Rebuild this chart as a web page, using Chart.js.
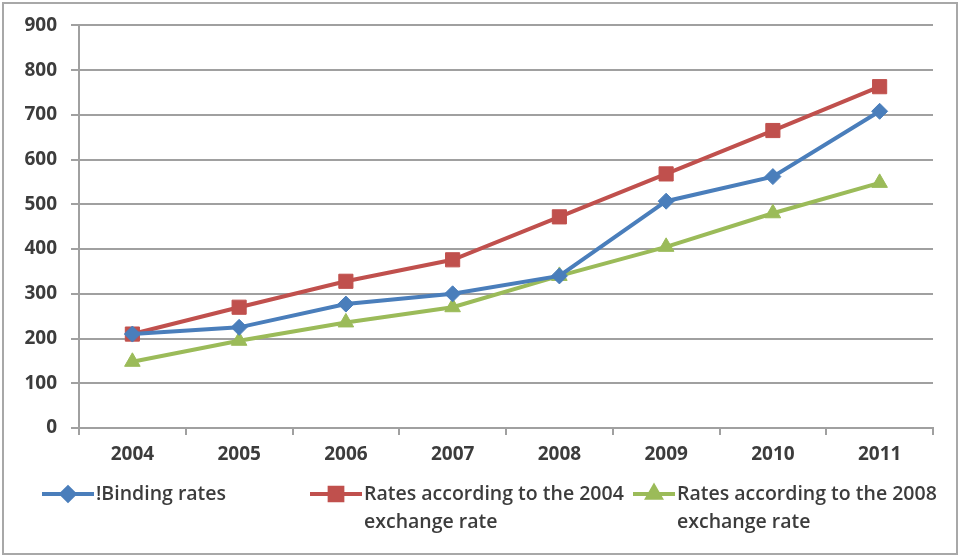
<!DOCTYPE html>
<html lang="en">
<head>
  <meta charset="UTF-8">
  <title>Binding rates 2004-2011</title>
  <script src="https://cdn.jsdelivr.net/npm/chart.js"></script>
  <style>
    body { margin: 0; background: #fff; }
    #wrap { position: relative; width: 962px; height: 557px; }
    #frame { position: absolute; left: 2px; top: 2px; width: 952px; height: 549px; border: 2px solid #a8a8a8; pointer-events: none; }
  </style>
</head>
<body>
  <div id="wrap">
    <canvas id="ratesChart" width="962" height="557"></canvas>
    <div id="frame"></div>
  </div>

  <script>
    const years = ['2004', '2005', '2006', '2007', '2008', '2009', '2010', '2011'];
    const bindingRates = [210, 225, 277, 300, 340, 507, 562, 708];
    const rates2004 = [210, 270, 328, 376, 472, 568, 665, 763];
    const rates2008 = [148, 195, 236, 270, 340, 405, 480, 548];
    const yTicks = [0, 100, 200, 300, 400, 500, 600, 700, 800, 900];

    const BLUE = '#4a7ebb';
    const RED = '#c0504d';
    const GREEN = '#9bbb59';
    const TEXT = '#3c3c3c';
    const GRID = '#a0a0a0';
    const FONT = 'Open Sans';

    // legend entries, drawn by the plugin below (two-line labels)
    const legendItems = [
      { lines: ['!Binding rates'], color: BLUE, style: 'rectRot', r: 6.5, x: 42, w: 52 },
      { lines: ['Rates according to the 2004', 'exchange rate'], color: RED, style: 'rect', r: 9, x: 310, w: 52 },
      { lines: ['Rates according to the 2008', 'exchange rate'], color: GREEN, style: 'triangle', r: 7.5, x: 633, w: 42 }
    ];

    const legendPlugin = {
      id: 'bottomLegend',
      afterDraw(chart) {
        const ctx = chart.ctx;
        ctx.save();
        ctx.font = `600 19.5px "${FONT}"`;
        ctx.textBaseline = 'middle';
        legendItems.forEach(item => {
          const y = 494;
          ctx.strokeStyle = item.color;
          ctx.lineWidth = 4;
          ctx.beginPath();
          ctx.moveTo(item.x, y);
          ctx.lineTo(item.x + item.w, y);
          ctx.stroke();
          Chart.helpers.drawPoint(ctx, {
            pointStyle: item.style, radius: item.r, rotation: 0, borderWidth: 1
          }, item.x + item.w / 2, y);
          ctx.fillStyle = item.color;
          ctx.fill();
          ctx.fillStyle = TEXT;
          item.lines.forEach((t, i) => ctx.fillText(t, item.x + item.w + 2, y + i * 28));
        });
        ctx.restore();
      }
    };

    const ctx = document.getElementById('ratesChart').getContext('2d');
    new Chart(ctx, {
      type: 'line',
      data: {
        labels: years,
        datasets: [
          { label: 'Binding rates', data: bindingRates, borderColor: BLUE, backgroundColor: BLUE, pointStyle: 'rectRot', pointRadius: 8 },
          { label: 'Rates according to the 2004 exchange rate', data: rates2004, borderColor: RED, backgroundColor: RED, pointStyle: 'rect', pointRadius: 10 },
          { label: 'Rates according to the 2008 exchange rate', data: rates2008, borderColor: GREEN, backgroundColor: GREEN, pointStyle: 'triangle', pointRadius: 9 }
        ]
      },
      options: {
        responsive: false,
        animation: false,
        elements: {
          line: { borderWidth: 4, tension: 0 },
          point: { borderWidth: 1, hoverRadius: 8 }
        },
        layout: { padding: { top: 25, right: 29, left: 0, bottom: 0 } },
        plugins: { legend: { display: false }, tooltip: { enabled: false } },
        scales: {
          x: {
            offset: true,
            afterFit: s => { s.height = 129; },
            grid: { offset: true, drawOnChartArea: false, drawTicks: true, tickLength: 7, color: GRID, lineWidth: 2 },
            border: { color: GRID, width: 2 },
            ticks: { color: TEXT, padding: 8, font: { family: FONT, size: 19, weight: '700' } }
          },
          y: {
            min: 0,
            max: 900,
            afterFit: s => { s.width = 79; },
            afterBuildTicks: s => { s.ticks = yTicks.map(v => ({ value: v })); },
            grid: { color: GRID, lineWidth: 2, tickLength: 8 },
            border: { color: GRID, width: 2 },
            ticks: { color: TEXT, padding: 14, font: { family: FONT, size: 19, weight: '700' } }
          }
        }
      },
      plugins: [legendPlugin]
    });
  </script>
</body>
</html>
